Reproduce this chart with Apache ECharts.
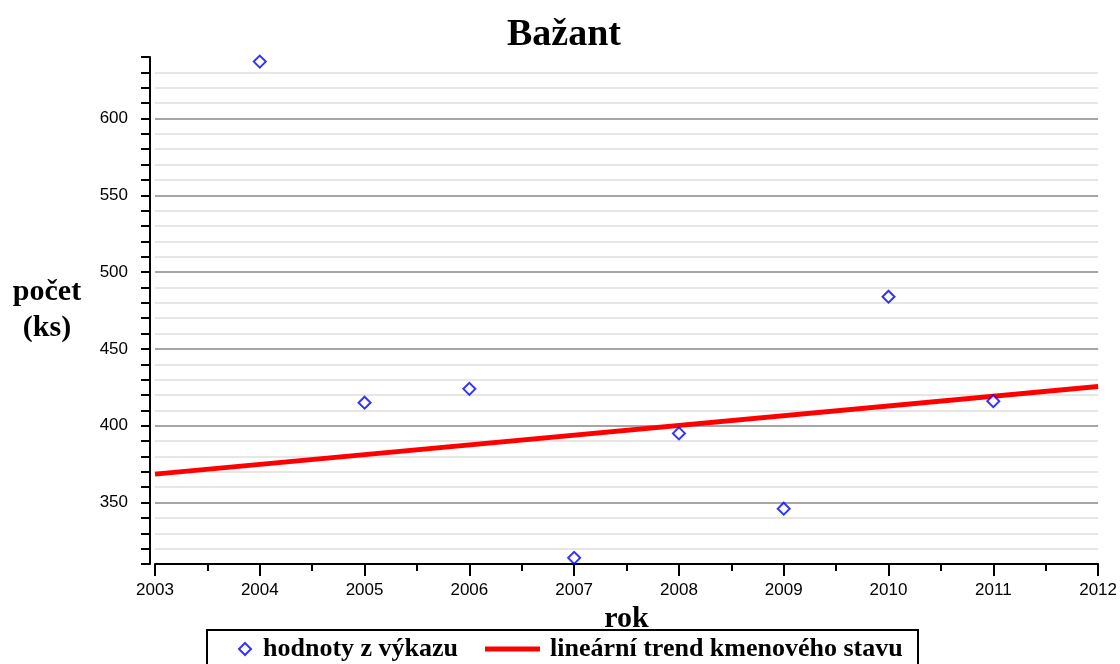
<!DOCTYPE html>
<html>
<head>
<meta charset="utf-8">
<script src="https://cdn.jsdelivr.net/npm/echarts@6/dist/echarts.min.js"></script>
<style>
  html, body { margin: 0; padding: 0; background: #fff; }
  #main { width: 1120px; height: 664px; }
</style>
</head>
<body>
<div id="main"></div>
<script>
// roky a hodnoty z výkazu
var years = [2004, 2005, 2006, 2007, 2008, 2009, 2010, 2011];
var hodnoty = [637, 415, 424, 314, 395, 346, 484, 416];
// lineární trend kmenového stavu (koncové body)
var trendYears = [2003, 2012];
var trendValues = [368.5, 425.5];

var serif = "'Liberation Serif', 'DejaVu Serif', serif";
var sans = "'Liberation Sans', 'DejaVu Sans', sans-serif";
var light = "#e6e6e6";
var dark = "#a6a6a6";

var myChart = echarts.init(document.getElementById("main"));
myChart.setOption({
  backgroundColor: "#fff",
  animation: false,
  title: {
    text: "Bažant",
    left: 507,
    top: 16,
    padding: 0,
    textStyle: { fontFamily: serif, fontSize: 38, fontWeight: "bold", color: "#000" }
  },
  grid: { left: 155, right: 20, top: 57, bottom: 100 },
  legend: [
    {
      data: ["hodnoty z výkazu"],
      left: 238,
      top: 636,
      padding: 0,
      itemWidth: 12,
      itemHeight: 12,
      textStyle: { fontFamily: serif, fontSize: 26, fontWeight: "bold", color: "#000", padding: [0, 0, 0, 7] }
    },
    {
      data: [{ name: "lineární trend kmenového stavu", icon: "rect" }],
      left: 485,
      top: 636,
      padding: 0,
      itemWidth: 55,
      itemHeight: 5,
      textStyle: { fontFamily: serif, fontSize: 26, fontWeight: "bold", color: "#000", padding: [0, 0, 0, 5] }
    }
  ],
  graphic: [
    {
      type: "rect",
      shape: { x: 207, y: 630, width: 711, height: 60 },
      style: { fill: "none", stroke: "#000", lineWidth: 2 },
      silent: true
    }
  ],
  xAxis: {
    type: "value",
    min: 2003,
    max: 2012,
    interval: 1,
    name: "rok",
    nameLocation: "middle",
    nameGap: 52,
    nameTextStyle: { fontFamily: serif, fontSize: 30, fontWeight: "bold", color: "#000", verticalAlign: "middle" },
    axisLine: { onZero: false, lineStyle: { color: "#000", width: 2 } },
    axisTick: { length: 12, lineStyle: { color: "#000", width: 2 } },
    minorTick: { show: true, splitNumber: 2, length: 7, lineStyle: { color: "#000", width: 2 } },
    axisLabel: {
      margin: 18, fontFamily: sans, fontSize: 17, color: "#000",
      formatter: function (v) { return String(v); }
    },
    splitLine: { show: false }
  },
  yAxis: {
    type: "value",
    min: 310,
    max: 640,
    interval: 10,
    offset: 5,
    name: "počet\n(ks)",
    nameLocation: "middle",
    nameRotate: 0,
    nameGap: 103,
    nameTextStyle: {
      fontFamily: serif, fontSize: 30, fontWeight: "bold", color: "#000",
      align: "center", verticalAlign: "middle", lineHeight: 36
    },
    axisLine: { show: true, lineStyle: { color: "#000", width: 2 } },
    axisTick: { show: true, length: 9, lineStyle: { color: "#000", width: 2 } },
    axisLabel: {
      margin: 22, fontFamily: sans, fontSize: 17, color: "#000",
      formatter: function (v) { return v % 50 === 0 ? String(v) : ""; }
    },
    splitLine: {
      show: true,
      showMinLine: false,
      showMaxLine: false,
      lineStyle: { color: [light, light, light, dark, light], width: 2 }
    }
  },
  series: [
    {
      name: "hodnoty z výkazu",
      type: "scatter",
      symbol: "emptyDiamond",
      symbolSize: 12,
      itemStyle: { color: "#0000ff", borderWidth: 1.3 },
      data: years.map(function (y, i) { return [y, hodnoty[i]]; }),
      z: 3
    },
    {
      name: "lineární trend kmenového stavu",
      type: "line",
      symbol: "none",
      lineStyle: { color: "#ff0000", width: 5 },
      itemStyle: { color: "#ff0000" },
      data: trendYears.map(function (y, i) { return [y, trendValues[i]]; }),
      z: 2
    }
  ]
});
</script>
</body>
</html>
